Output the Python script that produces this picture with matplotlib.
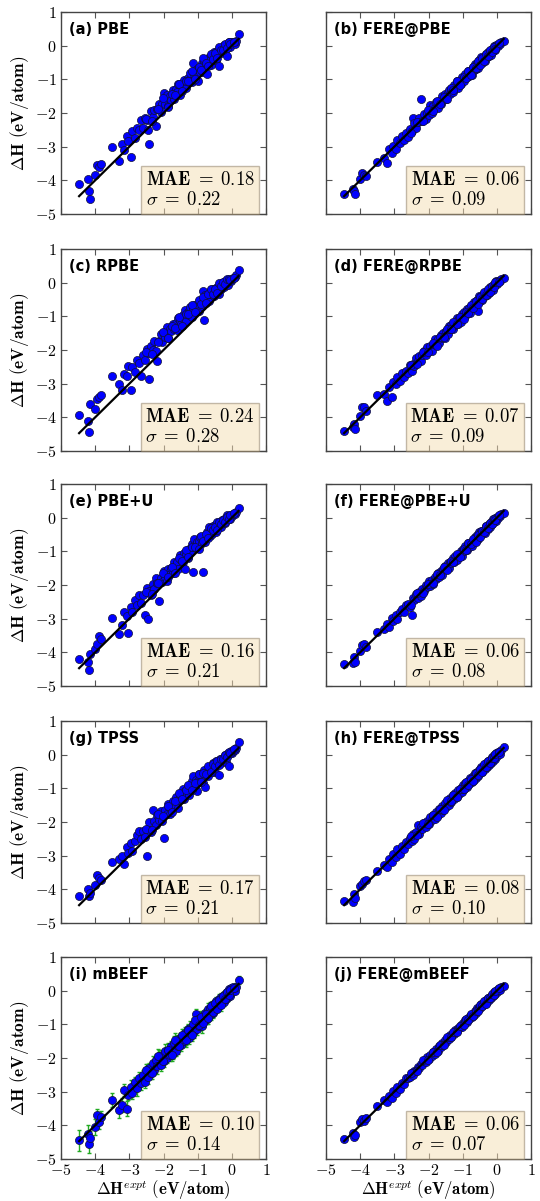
import matplotlib
matplotlib.use("Agg")
import matplotlib.pyplot as plt
from matplotlib.ticker import FuncFormatter

plt.rcParams['mathtext.fontset'] = 'cm'

# experimental formation enthalpies (eV/atom), shared by all panels
h_expt = [
    -4.47, -4.21, -4.18, -4.14, -4.00, -3.95, -3.90, -3.82, -3.50, -3.31,
    -3.22, -3.16, -3.08, -3.03, -2.96, -2.91, -2.84, -2.79, -2.73, -2.66,
    -2.61, -2.55, -2.49, -2.46, -2.41, -2.36, -2.31, -2.27, -2.22, -2.18,
    -2.13, -2.08, -2.04, -1.99, -1.95, -1.91, -1.86, -1.82, -1.78, -1.73,
    -1.69, -1.64, -1.61, -1.57, -1.52, -1.48, -1.44, -1.41, -1.37, -1.33,
    -1.29, -1.25, -1.22, -1.18, -1.14, -1.10, -1.06, -1.03, -0.99, -0.95,
    -0.92, -0.88, -0.85, -0.81, -0.78, -0.74, -0.71, -0.67, -0.64, -0.61,
    -0.57, -0.54, -0.51, -0.48, -0.45, -0.42, -0.39, -0.36, -0.33, -0.30,
    -0.27, -0.24, -0.21, -0.18, -0.15, -0.12, -0.09, -0.06, -0.03, 0.00,
    0.03, 0.08, 0.12, 0.20,
    -2.52, -2.33, -2.15, -2.01, -1.88, -1.76, -1.66, -1.55, -1.46, -1.35,
    -1.27, -1.16, -1.08, -0.97, -0.90, -0.83, -0.76, -0.69, -0.62, -0.55,
    -0.49, -0.43, -0.37, -0.32, -0.26, -0.20, -0.14, -0.08, -0.04, 0.05]

h_pbe = [
    -4.12, -3.96, -4.32, -4.55, -3.84, -3.55, -3.60, -3.50, -3.00, -3.42,
    -2.92, -3.11, -2.68, -2.83, -3.30, -2.53, -2.74, -2.44, -2.51, -2.21,
    -2.46, -2.15, -2.21, -2.50, -2.92, -1.94, -2.13, -1.92, -2.40, -1.88,
    -1.73, -1.96, -1.74, -1.40, -1.73, -1.46, -1.78, -1.49, -1.60, -1.33,
    -1.59, -1.29, -1.39, -1.15, -1.47, -1.18, -1.29, -1.03, -1.12, -1.25,
    -0.97, -1.07, -0.82, -1.08, -0.51, -0.85, -1.01, -0.68, -1.05, -0.67,
    -0.77, -0.50, -0.77, -0.51, -0.58, -0.85, -0.36, -0.55, -0.39, -0.56,
    -0.29, -0.44, -0.19, -0.30, -0.43, -0.17, -0.60, -0.06, -0.21, -0.08,
    -0.17, 0.01, -0.16, 0.00, -0.30, 0.00, 0.11, -0.03, 0.11, 0.08,
    0.10, 0.05, 0.15, 0.35,
    -2.17, -2.23, -1.87, -1.56, -1.83, -1.44, -1.46, -1.15, -1.34, -1.05,
    -1.05, -0.74, -1.00, -0.62, -0.72, -0.38, -0.51, -0.59, -0.24, -0.40,
    -0.21, -0.38, -0.05, -0.12, -0.14, 0.05, -0.06, 0.10, 0.06, 0.10]

h_fere_pbe = [
    -4.42, -4.25, -4.33, -4.40, -3.97, -3.78, -3.85, -3.88, -3.45, -3.35,
    -3.48, -3.08, -3.18, -2.98, -3.08, -2.81, -2.88, -2.67, -2.81, -2.60,
    -2.71, -2.48, -2.54, -2.15, -2.31, -2.44, -2.27, -2.15, -1.58, -2.24,
    -2.03, -2.18, -1.99, -2.05, -1.75, -2.00, -1.78, -1.86, -1.67, -1.85,
    -1.63, -1.72, -1.49, -1.60, -1.43, -1.59, -1.40, -1.31, -1.44, -1.30,
    -1.39, -1.17, -1.27, -1.06, -1.26, -1.05, -1.14, -0.93, -0.99, -1.04,
    -0.83, -0.94, -0.74, -0.91, -0.74, -0.87, -0.64, -0.72, -0.54, -0.69,
    -0.52, -0.66, -0.43, -0.52, -0.35, -0.51, -0.36, -0.47, -0.26, -0.35,
    -0.19, -0.30, -0.17, -0.28, -0.09, -0.15, 0.00, -0.13, 0.02, 0.02,
    0.00, 0.06, 0.10, 0.13,
    -2.60, -2.27, -2.25, -1.92, -1.93, -1.65, -1.73, -1.51, -1.57, -1.27,
    -1.31, -1.06, -1.17, -0.92, -0.96, -0.74, -0.86, -0.62, -0.65, -0.47,
    -0.56, -0.38, -0.46, -0.26, -0.30, -0.12, -0.20, -0.04, -0.09, 0.08]

h_rpbe = [
    -3.94, -4.12, -4.44, -3.60, -3.74, -3.47, -3.40, -3.35, -2.76, -3.00,
    -3.20, -2.71, -2.78, -2.48, -3.18, -2.51, -2.64, -2.29, -2.38, -2.76,
    -2.16, -2.30, -1.97, -2.08, -2.85, -1.88, -2.01, -1.72, -2.02, -2.32,
    -1.73, -1.53, -1.76, -1.51, -1.60, -1.33, -1.64, -1.37, -1.45, -1.23,
    -1.39, -1.19, -1.41, -1.05, -1.14, -1.23, -0.96, -1.09, -0.82, -1.15,
    -0.87, -0.97, -0.72, -1.03, -0.76, -0.65, -0.84, -0.63, -0.69, -0.85,
    -0.57, -0.68, -0.26, -1.12, -0.36, -0.49, -0.33, -0.55, -0.34, -0.21,
    -0.35, -0.19, -0.41, -0.18, -0.27, -0.14, -0.34, -0.11, -0.18, 0.00,
    -0.07, -0.14, 0.04, -0.06, 0.07, -0.07, 0.09, 0.09, 0.05, 0.12,
    0.15, 0.18, 0.22, 0.38,
    -2.07, -2.13, -1.77, -1.46, -1.63, -1.28, -1.36, -1.03, -1.28, -0.93,
    -0.92, -0.66, -0.86, -0.52, -0.62, -0.43, -0.61, -0.34, -0.20, -0.35,
    -0.19, -0.31, -0.02, -0.10, 0.02, -0.05, 0.11, 0.10, 0.08, 0.15]

h_fere_rpbe = [
    -4.40, -4.30, -4.20, -4.35, -3.95, -3.70, -3.68, -3.80, -3.35, -3.30,
    -3.50, -3.10, -3.40, -2.95, -3.01, -2.81, -2.92, -2.67, -2.79, -2.61,
    -2.69, -2.45, -2.61, -2.41, -2.47, -2.25, -2.34, -2.19, -2.32, -2.14,
    -2.04, -2.16, -1.92, -2.04, -1.88, -2.02, -1.82, -1.67, -1.85, -1.67,
    -1.78, -1.54, -1.65, -1.49, -1.64, -1.43, -1.51, -1.30, -1.39, -1.26,
    -1.39, -1.19, -1.27, -1.06, -1.22, -1.06, -1.17, -0.94, -1.03, -0.88,
    -1.00, -0.78, -0.90, -0.75, -0.90, -0.66, -0.74, -0.56, -0.71, -0.57,
    -0.50, -0.85, -0.41, -0.54, -0.41, -0.52, -0.31, -0.40, -0.27, -0.38,
    -0.22, -0.31, -0.12, -0.21, -0.09, -0.21, -0.05, -0.08, 0.04, -0.04,
    0.05, 0.04, 0.10, 0.15,
    -2.45, -2.42, -2.05, -2.06, -1.80, -1.87, -1.61, -1.62, -1.37, -1.39,
    -1.17, -1.24, -1.02, -1.07, -0.86, -0.90, -0.67, -0.74, -0.55, -0.64,
    -0.44, -0.49, -0.29, -0.36, -0.20, -0.28, -0.10, -0.13, 0.03, 0.03]

h_pbeu = [
    -4.20, -4.30, -4.53, -4.05, -3.90, -3.75, -3.50, -3.60, -2.97, -3.47,
    -3.18, -2.81, -2.93, -3.44, -2.66, -2.81, -2.46, -2.59, -2.31, -2.54,
    -2.31, -2.90, -2.09, -3.00, -2.19, -2.31, -1.96, -2.12, -1.80, -1.93,
    -2.47, -1.78, -1.92, -1.59, -1.75, -1.89, -1.51, -1.67, -1.50, -1.65,
    -1.31, -1.46, -1.31, -1.52, -1.12, -1.26, -1.32, -1.06, -1.53, -1.08,
    -1.19, -0.93, -1.02, -0.78, -1.60, -0.62, -0.91, -0.73, -0.91, -0.70,
    -0.57, -0.76, -1.62, -0.53, -0.73, -0.44, -0.53, -0.29, -0.54, -0.39,
    -0.49, -0.24, -0.36, -0.23, -0.43, -0.14, -0.27, -0.16, -0.28, -0.08,
    -0.15, -0.04, -0.16, -0.03, 0.07, -0.04, 0.05, -0.04, 0.07, 0.06,
    0.10, 0.12, 0.18, 0.28,
    -2.22, -2.28, -1.93, -1.63, -1.76, -1.48, -1.64, -1.20, -1.28, -0.95,
    -1.17, -0.86, -0.88, -0.92, -0.55, -0.68, -0.48, -0.61, -0.30, -0.37,
    -0.27, -0.38, -0.12, -0.20, -0.08, -0.12, 0.01, -0.03, 0.08, 0.13]

h_fere_pbeu = [
    -4.35, -4.32, -4.15, -4.30, -3.95, -3.78, -3.75, -3.85, -3.40, -3.32,
    -3.17, -3.24, -2.98, -3.07, -2.89, -3.01, -2.81, -2.70, -2.79, -2.58,
    -2.57, -2.64, -2.88, -2.38, -2.46, -2.26, -2.38, -2.22, -2.32, -2.11,
    -2.19, -1.99, -2.07, -1.88, -2.03, -1.86, -1.96, -1.75, -1.82, -1.63,
    -1.76, -1.58, -1.71, -1.53, -1.43, -1.53, -1.36, -1.49, -1.32, -1.36,
    -1.19, -1.31, -1.15, -1.27, -1.10, -1.14, -0.98, -1.13, -0.93, -1.00,
    -0.85, -0.96, -0.75, -0.86, -0.74, -0.83, -0.65, -0.71, -0.56, -0.68,
    -0.52, -0.62, -0.42, -0.52, -0.39, -0.49, -0.36, -0.45, -0.26, -0.32,
    -0.33, -0.19, -0.29, -0.14, -0.20, -0.05, -0.12, -0.01, -0.09, 0.03,
    0.00, 0.06, 0.10, 0.13,
    -2.58, -2.25, -2.24, -1.96, -1.95, -1.66, -1.70, -1.48, -1.56, -1.29,
    -1.32, -1.07, -1.16, -0.93, -0.96, -0.75, -0.79, -0.63, -0.71, -0.50,
    -0.56, -0.39, -0.42, -0.25, -0.30, -0.15, -0.20, -0.05, -0.07, 0.09]

h_tpss = [
    -4.20, -4.00, -4.20, -4.10, -3.88, -3.57, -3.65, -3.72, -3.20, -3.10,
    -3.00, -3.25, -2.73, -2.93, -2.62, -2.86, -2.56, -2.39, -2.28, -2.51,
    -2.26, -2.45, -3.00, -2.21, -2.01, -2.31, -1.64, -1.97, -2.10, -1.80,
    -1.93, -1.66, -1.96, -2.47, -1.65, -1.76, -1.46, -1.77, -1.53, -1.38,
    -1.59, -1.26, -1.39, -1.57, -1.20, -1.33, -1.02, -1.33, -1.09, -1.15,
    -0.94, -1.20, -0.97, -0.78, -0.63, -0.98, -0.76, -1.08, -0.79, -0.57,
    -0.82, -0.60, -0.83, -0.46, -0.95, -0.52, -0.63, -0.37, -0.49, -0.36,
    -0.52, -0.24, -0.33, -0.50, -0.20, -0.30, -0.60, -0.14, -0.25, -0.12,
    -0.12, -0.19, -0.01, -0.23, -0.03, 0.06, -0.35, 0.04, 0.12, 0.05,
    0.10, 0.15, 0.20, 0.39,
    -2.20, -2.23, -1.75, -1.83, -1.53, -1.71, -1.38, -1.13, -1.31, -1.05,
    -0.89, -1.04, -0.83, -0.57, -0.82, -0.53, -0.56, -0.34, -0.52, -0.27,
    -0.34, -0.18, -0.32, -0.12, -0.14, -0.02, -0.06, 0.07, 0.06, 0.17]

h_fere_tpss = [
    -4.35, -4.38, -4.15, -4.25, -3.90, -3.85, -3.75, -3.72, -3.45, -3.28,
    -3.35, -3.10, -3.20, -2.95, -3.05, -2.80, -2.95, -2.70, -2.80, -2.58,
    -2.65, -2.48, -2.55, -2.35, -2.50, -2.30, -2.10, -2.35, -2.15, -2.22,
    -2.02, -2.15, -1.98, -2.05, -1.85, -1.95, -1.78, -1.90, -1.70, -1.80,
    -1.60, -1.72, -1.52, -1.65, -1.45, -1.55, -1.38, -1.50, -1.30, -1.40,
    -1.20, -1.32, -1.15, -1.25, -1.05, -1.18, -0.98, -1.10, -0.90, -1.02,
    -0.85, -0.95, -0.78, -0.88, -0.70, -0.80, -0.62, -0.75, -0.55, -0.68,
    -0.50, -0.62, -0.45, -0.55, -0.38, -0.50, -0.32, -0.42, -0.25, -0.36,
    -0.20, -0.32, -0.15, -0.25, -0.08, -0.18, -0.02, -0.12, 0.05, -0.05,
    0.08, 0.02, 0.15, 0.22,
    -2.43, -2.40, -2.04, -2.06, -1.80, -1.86, -1.60, -1.63, -1.36, -1.39,
    -1.20, -1.25, -1.03, -1.03, -0.80, -0.90, -0.72, -0.79, -0.54, -0.60,
    -0.43, -0.51, -0.28, -0.36, -0.19, -0.26, -0.09, -0.11, 0.02, 0.07]

h_mbeef = [
    -4.45, -4.25, -4.55, -4.38, -4.05, -3.70, -3.90, -3.75, -3.25, -3.55,
    -3.40, -2.95, -3.50, -3.10, -2.85, -3.05, -2.70, -2.90, -2.60, -2.75,
    -2.50, -2.70, -2.35, -2.55, -2.30, -2.45, -2.15, -2.35, -2.05, -2.25,
    -1.95, -2.20, -1.90, -2.10, -1.80, -2.00, -1.75, -1.90, -1.65, -1.85,
    -1.55, -1.80, -1.50, -1.65, -1.40, -1.60, -1.35, -1.50, -1.25, -1.42,
    -1.15, -1.40, -1.10, -1.30, -1.00, -1.20, -0.70, -1.15, -0.85, -1.05,
    -0.80, -1.05, -0.75, -0.90, -0.65, -0.85, -0.55, -0.75, -0.50, -0.70,
    -0.42, -0.65, -0.40, -0.55, -0.30, -0.50, -0.25, -0.42, -0.18, -0.35,
    -0.15, -0.35, -0.10, -0.25, -0.05, -0.20, 0.05, -0.15, 0.08, -0.05,
    0.10, 0.00, 0.12, 0.32,
    -2.37, -2.45, -1.95, -2.09, -1.76, -1.91, -1.48, -1.65, -1.32, -1.48,
    -1.17, -1.32, -0.86, -1.03, -0.78, -0.97, -0.68, -0.80, -0.46, -0.64,
    -0.37, -0.53, -0.29, -0.44, -0.16, -0.26, -0.05, -0.13, 0.02, 0.09]

err_mbeef = [
    0.30, 0.25, 0.28, 0.22, 0.25, 0.20, 0.22, 0.18, 0.20, 0.22,
    0.20, 0.18, 0.22, 0.15, 0.20, 0.18, 0.15, 0.22, 0.18, 0.20,
    0.15, 0.20, 0.18, 0.22, 0.15, 0.18, 0.20, 0.15, 0.18, 0.22,
    0.18, 0.20, 0.15, 0.18, 0.22, 0.15, 0.18, 0.20, 0.15, 0.18,
    0.20, 0.15, 0.18, 0.22, 0.15, 0.18, 0.20, 0.15, 0.18, 0.20,
    0.15, 0.18, 0.20, 0.15, 0.18, 0.22, 0.15, 0.18, 0.20, 0.15,
    0.18, 0.20, 0.15, 0.18, 0.12, 0.15, 0.18, 0.12, 0.15, 0.18,
    0.12, 0.15, 0.12, 0.15, 0.10, 0.12, 0.15, 0.10, 0.12, 0.10,
    0.12, 0.10, 0.12, 0.10, 0.08, 0.12, 0.10, 0.08, 0.10, 0.12,
    0.10, 0.08, 0.10, 0.12,
    0.20, 0.18, 0.22, 0.15, 0.20, 0.18, 0.22, 0.15, 0.18, 0.20,
    0.15, 0.18, 0.20, 0.15, 0.18, 0.12, 0.15, 0.18, 0.12, 0.15,
    0.12, 0.10, 0.12, 0.15, 0.10, 0.12, 0.10, 0.08, 0.10, 0.12]

h_fere_mbeef = [
    -4.40, -4.22, -4.35, -4.30, -3.90, -3.80, -3.88, -3.78, -3.42, -3.25,
    -3.30, -3.12, -3.20, -2.98, -3.05, -2.85, -2.92, -2.75, -2.78, -2.60,
    -2.58, -2.55, -2.45, -2.50, -2.38, -2.40, -2.28, -2.30, -2.18, -2.22,
    -2.08, -2.12, -1.98, -2.02, -1.92, -1.95, -1.82, -1.88, -1.72, -1.78,
    -1.65, -1.68, -1.55, -1.60, -1.48, -1.52, -1.40, -1.45, -1.32, -1.38,
    -1.25, -1.28, -1.18, -1.20, -1.10, -1.12, -1.02, -1.08, -0.95, -1.00,
    -0.88, -0.92, -0.80, -0.85, -0.75, -0.78, -0.68, -0.72, -0.60, -0.65,
    -0.52, -0.58, -0.48, -0.52, -0.40, -0.45, -0.35, -0.40, -0.28, -0.33,
    -0.22, -0.28, -0.18, -0.22, -0.12, -0.15, -0.05, -0.10, 0.00, -0.03,
    0.05, 0.02, 0.10, 0.14,
    -2.46, -2.38, -2.07, -2.05, -1.83, -1.83, -1.62, -1.61, -1.39, -1.38,
    -1.22, -1.24, -1.04, -1.02, -0.84, -0.87, -0.69, -0.75, -0.59, -0.60,
    -0.43, -0.47, -0.32, -0.39, -0.22, -0.23, -0.09, -0.12, -0.01, 0.08]

err_fere_mbeef = [
    0.08, 0.06, 0.07, 0.05, 0.06, 0.08, 0.05, 0.07, 0.06, 0.05,
    0.06, 0.05, 0.07, 0.06, 0.05, 0.08, 0.06, 0.05, 0.07, 0.06,
    0.05, 0.07, 0.06, 0.05, 0.06, 0.08, 0.05, 0.06, 0.07, 0.05,
    0.06, 0.05, 0.07, 0.06, 0.05, 0.06, 0.08, 0.05, 0.06, 0.07,
    0.05, 0.06, 0.05, 0.07, 0.06, 0.05, 0.06, 0.07, 0.05, 0.06,
    0.07, 0.05, 0.06, 0.05, 0.07, 0.06, 0.05, 0.06, 0.05, 0.07,
    0.05, 0.06, 0.05, 0.06, 0.05, 0.04, 0.06, 0.05, 0.04, 0.05,
    0.04, 0.05, 0.04, 0.05, 0.04, 0.05, 0.04, 0.05, 0.04, 0.05,
    0.04, 0.05, 0.04, 0.05, 0.04, 0.05, 0.04, 0.05, 0.04, 0.05,
    0.04, 0.05, 0.04, 0.05,
    0.06, 0.05, 0.07, 0.05, 0.06, 0.05, 0.04, 0.06, 0.05, 0.04,
    0.05, 0.06, 0.04, 0.05, 0.04, 0.05, 0.04, 0.05, 0.04, 0.05,
    0.04, 0.05, 0.04, 0.05, 0.04, 0.05, 0.04, 0.05, 0.04, 0.05]

labels = ['(a)', '(b)', '(c)', '(d)', '(e)', '(f)', '(g)', '(h)', '(i)', '(j)']
methods = ['PBE', 'FERE@PBE', 'RPBE', 'FERE@RPBE', 'PBE+U', 'FERE@PBE+U',
           'TPSS', 'FERE@TPSS', 'mBEEF', 'FERE@mBEEF']
h_calc = [h_pbe, h_fere_pbe, h_rpbe, h_fere_rpbe, h_pbeu, h_fere_pbeu,
          h_tpss, h_fere_tpss, h_mbeef, h_fere_mbeef]
mae = ['0.18', '0.06', '0.24', '0.07', '0.16', '0.06', '0.17', '0.08', '0.10', '0.06']
sigma = ['0.22', '0.09', '0.28', '0.09', '0.21', '0.08', '0.21', '0.10', '0.14', '0.07']
errors = {8: err_mbeef, 9: err_fere_mbeef}

W, H = 540, 1201
fig = plt.figure(figsize=(W / 100, H / 100), dpi=100)

lefts = [61, 326]
tops = [12, 249, 484, 721, 957]
aw, ah = 205, 202

tickfmt = FuncFormatter(lambda v, p: r'$\mathbf{%d}$' % v if v >= 0 else r'$\mathbf{-%d}$' % -v)

for i in range(10):
    row, col = i // 2, i % 2
    ax = fig.add_axes([lefts[col] / W, 1 - (tops[row] + ah) / H, aw / W, ah / H])
    x = h_expt
    y = h_calc[i]
    if i in errors:
        ax.errorbar(x, y, yerr=errors[i], fmt='none', ecolor='#22aa22',
                    elinewidth=1.0, capsize=1.5, capthick=1.0, zorder=2)
    ax.scatter(x, y, s=34, c='#0000ff', edgecolors='#111133', linewidths=0.5, zorder=3)
    ax.plot([min(x), max(x)], [min(x), max(x)], color='black', lw=1.6, zorder=4)

    ax.set_xlim(-5, 1)
    ax.set_ylim(-5, 1)
    ax.set_xticks(range(-5, 2))
    ax.set_yticks(range(-5, 2))
    ax.tick_params(direction='in', top=True, right=True, length=4, width=0.8,
                   color='#555555', labelsize=11.5, pad=3)
    ax.xaxis.set_major_formatter(tickfmt)
    ax.yaxis.set_major_formatter(tickfmt)
    for sp in ax.spines.values():
        sp.set_color('#444444')
        sp.set_linewidth(1.0)

    if col == 1:
        ax.tick_params(labelleft=False)
    else:
        ax.set_ylabel(r'$\mathbf{\Delta H\ (eV/atom)}$', fontsize=12.5, labelpad=3)
    if row < 4:
        ax.tick_params(labelbottom=False)
    else:
        ax.set_xlabel(r'$\mathbf{\Delta H}^{expt}\ \mathbf{(eV/atom)}$', fontsize=12, labelpad=0)

    ax.text(0.04, 0.915, labels[i] + ' ' + methods[i], transform=ax.transAxes,
            fontsize=10.5, fontweight='bold', family='DejaVu Sans',
            va='center', ha='left')

    ax.text(0.945, 0.025,
            r'$\mathbf{MAE\;=\;%s}$' % mae[i] + '\n' + r'$\sigma\;\mathbf{=\;%s}$' % sigma[i],
            transform=ax.transAxes, fontsize=13.5, ha='right', va='bottom',
            multialignment='left', linespacing=1.05, zorder=6,
            bbox=dict(boxstyle='square,pad=0.25', facecolor='wheat', alpha=0.5,
                      edgecolor='#8a7a60', linewidth=1.0))

fig.savefig('out.png', dpi=100)
